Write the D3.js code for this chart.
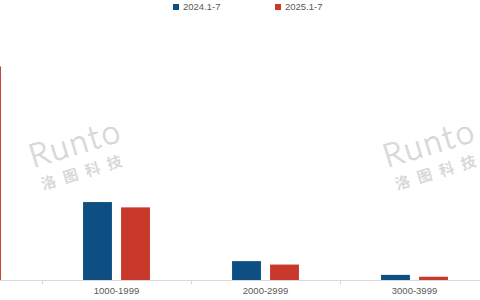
<!DOCTYPE html>
<html><head><meta charset="utf-8">
<script src="https://cdn.jsdelivr.net/npm/d3@7"></script>
<style>html,body{margin:0;padding:0;background:#fff;overflow:hidden}</style>
</head><body>
<svg id="chart" width="480" height="300"></svg>
<script>
const categories = ["0-999", "1000-1999", "2000-2999", "3000-3999"];
const seriesNames = ["2024.1-7", "2025.1-7"];
const values2024 = [65.5, 25.1, 6.2, 1.8];
const values2025 = [68.5, 23.4, 5.1, 1.2];
const colors = ["#0d4f82", "#c8392b"];

const svg = d3.select("#chart");
const W = 480, H = 300;
const baseY = 280.5;

const x = d3.scaleBand().domain(categories).range([-107, 489]).paddingInner(0).paddingOuter(0);
const y = d3.scaleLinear().domain([0, 80]).range([baseY, 30.5]);
const sub = d3.scaleBand().domain(seriesNames).range([0, x.bandwidth()]).paddingInner(0.24).paddingOuter(1.08);

// watermarks
function watermark(tx, ty) {
  const g = svg.append("g").attr("transform", `translate(${tx},${ty}) rotate(-17)`);
  g.append("text").attr("x", 0).attr("y", 0)
    .attr("font-family", "Lato, 'Open Sans', sans-serif").attr("font-weight", 300)
    .attr("font-size", 33).attr("letter-spacing", 2)
    .attr("fill", "#e2e2e2").attr("stroke", "#cdcdcd").attr("stroke-width", 0.6)
    .text("Runto");
  g.append("text").attr("x", 3).attr("y", 24)
    .attr("font-family", "'Noto Sans CJK SC', sans-serif").attr("font-weight", 700)
    .attr("font-size", 15).attr("letter-spacing", 8)
    .attr("fill", "#d9d9d9")
    .text("洛图科技");
}
watermark(33, 168);
watermark(387, 168);

// bars
const data = categories.map((c, i) => ({cat: c, vals: [values2024[i], values2025[i]]}));
const groups = svg.append("g").selectAll("g").data(data).join("g")
  .attr("transform", d => `translate(${x(d.cat)},0)`);
groups.selectAll("rect").data(d => d.vals.map((v, j) => ({name: seriesNames[j], v, j})))
  .join("rect")
  .attr("x", d => sub(d.name))
  .attr("width", sub.bandwidth())
  .attr("y", d => y(d.v))
  .attr("height", d => baseY - y(d.v))
  .attr("fill", d => colors[d.j]);

// axis
const axis = svg.append("g").attr("transform", `translate(0,${baseY})`)
  .call(d3.axisBottom(x).tickSize(0).tickPadding(7));
axis.select(".domain").remove();
axis.selectAll(".tick").filter(d => x(d) + x.bandwidth() / 2 < 0).remove();
axis.append("line").attr("x1", 0).attr("x2", W).attr("y1", 0).attr("y2", 0)
  .attr("stroke", "#d9d9d9").attr("stroke-width", 1);
axis.selectAll(".tick text").attr("font-family", "'Liberation Sans', Arial, sans-serif")
  .attr("font-size", 9.5).attr("fill", "#595959");
// boundary ticks
axis.selectAll(".btick").data(categories.slice(1)).join("line").attr("class", "btick")
  .attr("x1", d => Math.round(x(d)) + 0.5).attr("x2", d => Math.round(x(d)) + 0.5)
  .attr("y1", 0).attr("y2", 4).attr("stroke", "#d9d9d9");

// legend
const legendX = [173, 275];
const lg = svg.append("g").selectAll("g").data(seriesNames).join("g")
  .attr("transform", (d, i) => `translate(${legendX[i]},4)`);
lg.append("rect").attr("width", 6).attr("height", 6).attr("fill", (d, i) => colors[i]);
lg.append("text").attr("x", 10).attr("y", 3).attr("dy", "0.35em")
  .attr("font-family", "'Liberation Sans', Arial, sans-serif").attr("font-size", 9.5)
  .attr("fill", "#595959").text(d => d);
</script>
</body></html>
